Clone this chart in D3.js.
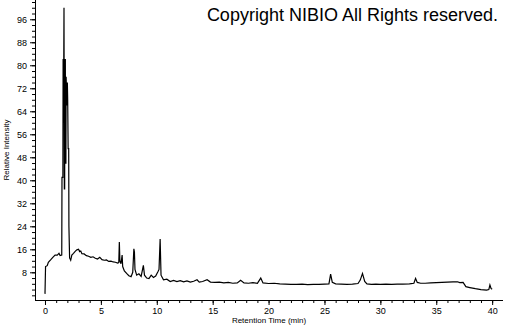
<!DOCTYPE html>
<html>
<head>
<meta charset="utf-8">
<script src="https://cdn.jsdelivr.net/npm/d3@7"></script>
<style>
  body { margin: 0; background: #fff; }
  svg { display: block; font-family: "Liberation Sans", Arial, sans-serif; }
</style>
</head>
<body>
<div id="chart"></div>
<script>
// retention time (min) and relative intensity
var times = [0.0, 0.05, 0.2, 0.3, 0.5, 0.7, 0.9, 1.1, 1.25, 1.35, 1.5, 1.52, 1.6, 1.62, 1.68, 1.7, 1.73, 1.76, 1.78, 1.82,
  1.84, 1.87, 1.89, 1.93, 1.96, 2.0, 2.03, 2.07, 2.12, 2.14, 2.2, 2.3, 2.4, 2.55, 2.7, 2.85, 3.0, 3.1, 3.2, 3.3,
  3.5, 3.7, 3.9, 4.1, 4.3, 4.5, 4.7, 4.9, 5.1, 5.3, 5.5, 5.7, 5.9, 6.1, 6.3, 6.5, 6.6, 6.65, 6.7, 6.8,
  6.9, 6.95, 7.1, 7.3, 7.5, 7.7, 7.85, 7.95, 8.0, 8.05, 8.2, 8.4, 8.6, 8.8, 8.9, 9.1, 9.3, 9.5, 9.7, 9.9,
  10.1, 10.2, 10.3, 10.38, 10.6, 10.9, 11.2, 11.5, 11.8, 12.1, 12.4, 12.7, 13.0, 13.3, 13.6, 13.8, 14.1, 14.5, 14.8, 15.2,
  15.6, 16.0, 16.4, 16.8, 17.2, 17.5, 17.8, 18.2, 18.6, 19.0, 19.3, 19.5, 20.0, 20.5, 21.0, 21.5, 22.0, 22.5, 23.0, 23.5,
  24.0, 24.5, 25.0, 25.4, 25.55, 25.7, 26.0, 26.5, 27.0, 27.5, 28.0, 28.2, 28.4, 28.6, 28.8, 29.2, 29.6, 30.0, 30.5, 31.0,
  31.5, 32.0, 32.6, 33.0, 33.15, 33.3, 33.6, 34.0, 34.5, 35.0, 35.5, 36.0, 36.5, 36.9, 37.1, 37.4, 37.65, 38.0, 38.5, 39.0,
  39.5, 39.7, 39.8, 39.9, 40.0];
var intensity = [0.5, 10, 10.3, 11.5, 12.3, 13.2, 14, 14, 14.6, 13.8, 14, 41, 41, 82, 82, 100, 37, 37, 82, 82,
  46, 46, 76, 70, 66, 74, 68, 51, 51, 24, 13, 12.2, 14, 14.6, 15.3, 15.8, 16, 15.2, 15.4, 14.5,
  14.4, 13.8, 13.6, 13.2, 13.4, 12.9, 12.6, 13.2, 12.4, 12.2, 12.3, 11.8, 11.9, 11.6, 11.5, 11.2, 11.4, 18.5, 12, 11,
  14, 10, 8.5, 7.6, 6.8, 6.5, 8, 16.2, 15, 9, 7, 7.5, 6.6, 10.4, 7, 6, 5.8, 7, 6.2, 6.7,
  8.2, 9, 19.6, 7, 5.4, 5.6, 4.8, 5.2, 4.8, 5.1, 4.7, 5.0, 4.6, 4.9, 5.4, 4.6, 4.8, 5.4, 4.6, 4.5,
  4.6, 4.3, 4.5, 4.2, 4.3, 5.2, 4.3, 4.2, 4.4, 4.2, 6.0, 4.3, 4.1, 4.2, 4.0, 3.9, 3.8, 3.8, 3.9, 3.7,
  3.8, 3.8, 3.9, 4.0, 7.4, 4.5, 4.0, 3.9, 3.8, 3.9, 4.1, 5.3, 7.6, 4.8, 4.0, 3.8, 3.9, 3.8, 3.9, 3.8,
  3.9, 3.9, 4.0, 4.2, 5.9, 4.5, 4.2, 4.2, 4.3, 4.4, 4.5, 4.6, 4.7, 4.7, 4.4, 4.5, 3.0, 2.7, 2.3, 2.0,
  1.8, 2.0, 3.6, 2.4, 2.1];

var xTicks = [0, 5, 10, 15, 20, 25, 30, 35, 40];
var yTicks = [8, 16, 24, 32, 40, 48, 56, 64, 72, 80, 88, 96];

var width = 505, height = 325;

var svg = d3.select("#chart")
    .append("svg")
    .attr("width", width)
    .attr("height", height);

var x = d3.scaleLinear()
    .domain([-0.894, 40.97])
    .range([35, 503]);

var y = d3.scaleLinear()
    .domain([-1.63, 102.7])
    .range([300, 0]);

// minor ticks
svg.append("g")
    .attr("transform", "translate(0,300)")
    .call(d3.axisBottom(x).tickValues(d3.range(0, 41, 1)).tickSize(3).tickSizeOuter(0).tickFormat(""))
    .call(g => g.select(".domain").remove());

svg.append("g")
    .attr("transform", "translate(35,0)")
    .call(d3.axisLeft(y).tickValues(d3.range(0, 103, 2)).tickSize(3).tickSizeOuter(0).tickFormat(""))
    .call(g => g.select(".domain").remove());

// major ticks with labels
var xAxis = svg.append("g")
    .attr("transform", "translate(0,300)")
    .call(d3.axisBottom(x).tickValues(xTicks).tickSize(5).tickSizeOuter(0).tickPadding(3));
xAxis.select(".domain").remove();
xAxis.selectAll("text").style("font-size", "9px").attr("fill", "#000");

var yAxis = svg.append("g")
    .attr("transform", "translate(35,0)")
    .call(d3.axisLeft(y).tickValues(yTicks).tickSize(5).tickSizeOuter(0).tickPadding(3));
yAxis.select(".domain").remove();
yAxis.selectAll("text").style("font-size", "9px").attr("fill", "#000");

// axis lines
svg.append("line")
    .attr("x1", 35).attr("x2", 503)
    .attr("y1", 300.5).attr("y2", 300.5)
    .attr("stroke", "#000");
svg.append("line")
    .attr("x1", 35.5).attr("x2", 35.5)
    .attr("y1", 0).attr("y2", 300.5)
    .attr("stroke", "#000");

// trace
var line = d3.line()
    .x(function(d, i) { return x(times[i]); })
    .y(function(d) { return y(d); });

svg.append("path")
    .datum(intensity)
    .attr("fill", "none")
    .attr("stroke", "#000")
    .attr("stroke-width", 1.2)
    .attr("d", line);

// axis titles
svg.append("text")
    .attr("x", 269)
    .attr("y", 323)
    .attr("text-anchor", "middle")
    .style("font-size", "8px")
    .text("Retention Time (min)");

svg.append("text")
    .attr("transform", "translate(9,150) rotate(-90)")
    .attr("text-anchor", "middle")
    .style("font-size", "8px")
    .text("Relative Intensity");

svg.append("text")
    .attr("x", 498)
    .attr("y", 21)
    .attr("text-anchor", "end")
    .style("font-size", "18px")
    .text("Copyright NIBIO All Rights reserved.");
</script>
</body>
</html>
